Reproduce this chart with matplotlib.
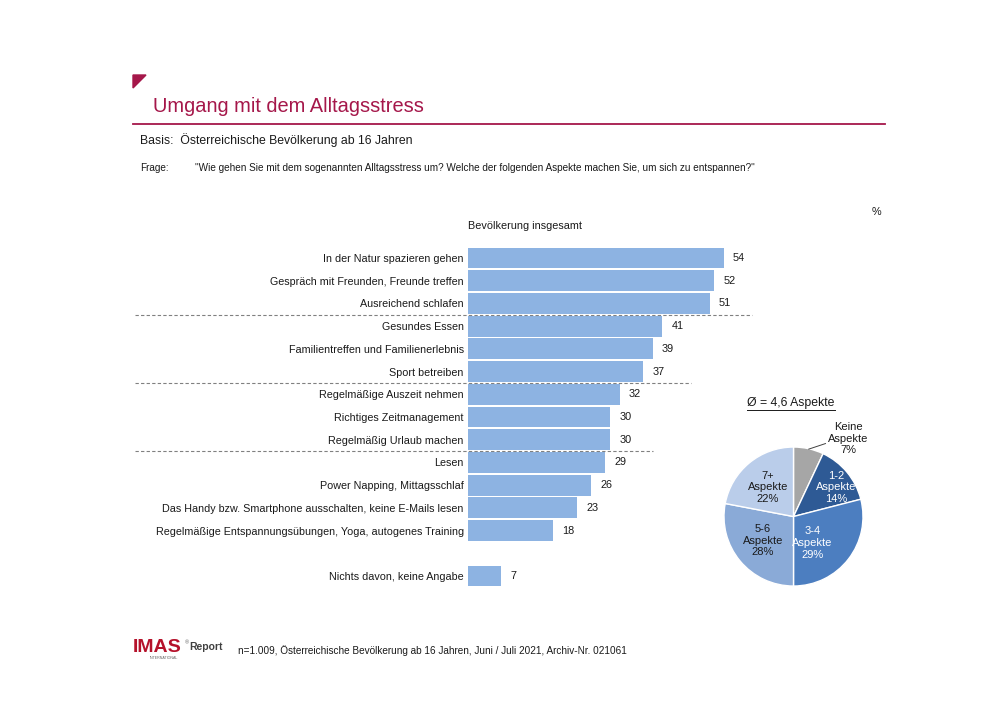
import matplotlib
matplotlib.use("Agg")
import matplotlib.pyplot as plt
from matplotlib.lines import Line2D
from matplotlib.patches import Polygon

plt.rcParams['font.family'] = ['Liberation Sans', 'DejaVu Sans']

# data
aspects = ["In der Natur spazieren gehen", "Gespräch mit Freunden, Freunde treffen",
           "Ausreichend schlafen", "Gesundes Essen", "Familientreffen und Familienerlebnis",
           "Sport betreiben", "Regelmäßige Auszeit nehmen", "Richtiges Zeitmanagement",
           "Regelmäßig Urlaub machen", "Lesen", "Power Napping, Mittagsschlaf",
           "Das Handy bzw. Smartphone ausschalten, keine E-Mails lesen",
           "Regelmäßige Entspannungsübungen, Yoga, autogenes Training",
           "Nichts davon, keine Angabe"]
values = [54, 52, 51, 41, 39, 37, 32, 30, 30, 29, 26, 23, 18, 7]

pie_labels = ["Keine\nAspekte\n7%", "1-2\nAspekte\n14%", "3-4\nAspekte\n29%",
              "5-6\nAspekte\n28%", "7+\nAspekte\n22%"]
pie_values = [7, 14, 29, 28, 22]

RED = "#A5174A"
BAR = "#8DB3E2"
TXT = "#1A1A1A"

fig = plt.figure(figsize=(10, 7.07), dpi=100)

# bar chart
ax = fig.add_axes([0.468, 0.1692, 0.2844, 0.482])
ypos = list(range(13)) + [14]
ax.barh(ypos, values, height=0.92, color=BAR, edgecolor="none")
ax.set_xlim(0, 60)
ax.set_ylim(14.5, -0.5)
ax.set_yticks(ypos, aspects, fontsize=7.75, color=TXT)
ax.tick_params(axis="y", length=0, pad=3)
ax.set_xticks([])
for s in ax.spines.values():
    s.set_visible(False)
for y, v in zip(ypos, values):
    ax.text(v + 1.9, y, str(v), va="center", ha="left", fontsize=7.8, color=TXT)

# group separators
sep_after = [2, 5, 8]
sep_end = [60, 47, 39]
for r, e in zip(sep_after, sep_end):
    ax.plot([-70.3, e], [r + 0.5, r + 0.5], color="#808080", lw=0.8,
            linestyle=(0, (3, 2)), clip_on=False)

# pie
pax = fig.add_axes([0.724, 0.1711, 0.139, 0.1966])
pie_colors = ["#A6A6A6", "#2E5A95", "#4C7EC0", "#8AAAD7", "#BACDEA"]
pax.pie(pie_values, colors=pie_colors, startangle=90, counterclock=False,
        wedgeprops=dict(edgecolor="white", linewidth=1.0))
pax.set_xlim(-1, 1)
pax.set_ylim(-1, 1)
pax.set_aspect("equal")
label_pos = [(0.79, 1.12), (0.61, 0.42), (0.27, -0.38), (-0.44, -0.35), (-0.37, 0.42)]
label_col = [TXT, "white", "white", TXT, TXT]
for lab, (lx, ly), c in zip(pie_labels, label_pos, label_col):
    pax.text(lx, ly, lab, ha="center", va="center", fontsize=8, color=c,
             linespacing=1.2)
pax.plot([0.22, 0.46], [0.97, 1.05], color="#404040", lw=0.7, clip_on=False)

# header
fig.add_artist(Polygon([[0.133, 1 - 75 / 707], [0.146, 1 - 75 / 707], [0.133, 1 - 88 / 707]],
                       closed=True, transform=fig.transFigure, color=RED))
fig.text(0.153, 1 - 107 / 707, "Umgang mit dem Alltagsstress", fontsize=14.4,
         color=RED, va="center", ha="left")
fig.add_artist(Line2D([0.133, 0.885], [1 - 124 / 707] * 2, color=RED, lw=1.3,
                      transform=fig.transFigure))
fig.text(0.140, 1 - 140 / 707, "Basis:  Österreichische Bevölkerung ab 16 Jahren",
         fontsize=8.8, color=TXT, va="center")
fig.text(0.140, 1 - 168 / 707, "Frage:", fontsize=7.2, color=TXT, va="center")
fig.text(0.195, 1 - 168 / 707,
         "\"Wie gehen Sie mit dem sogenannten Alltagsstress um? Welche der folgenden "
         "Aspekte machen Sie, um sich zu entspannen?\"",
         fontsize=7.2, color=TXT, va="center")
fig.text(0.876, 1 - 212 / 707, "%", fontsize=7.8, color=TXT, va="center", ha="center")
fig.text(0.525, 1 - 226 / 707, "Bevölkerung insgesamt", fontsize=7.8, color=TXT,
         va="center", ha="center")

# pie title
fig.text(0.791, 1 - 403 / 707, "Ø = 4,6 Aspekte", fontsize=8.8, color=TXT,
         va="center", ha="center")
fig.add_artist(Line2D([0.747, 0.835], [1 - 410 / 707] * 2, color=TXT, lw=0.7,
                      transform=fig.transFigure))

# footer
fig.text(0.133, 1 - 647 / 707, "IMAS", fontsize=14, fontweight="bold", color="#B5122B",
         va="center", ha="left")
fig.text(0.150, 1 - 658 / 707, "INTERNATIONAL", fontsize=2.6, color="#666666",
         va="center", ha="left")
fig.text(0.185, 1 - 643 / 707, "®", fontsize=4, color="#666666", va="center")
fig.text(0.189, 1 - 647 / 707, "Report", fontsize=7.5, fontweight="bold",
         color="#404040", va="center")
fig.text(0.238, 1 - 651 / 707,
         "n=1.009, Österreichische Bevölkerung ab 16 Jahren, Juni / Juli 2021, Archiv-Nr. 021061",
         fontsize=7.2, color=TXT, va="center")

fig.savefig("out.png", dpi=100, facecolor="white")
